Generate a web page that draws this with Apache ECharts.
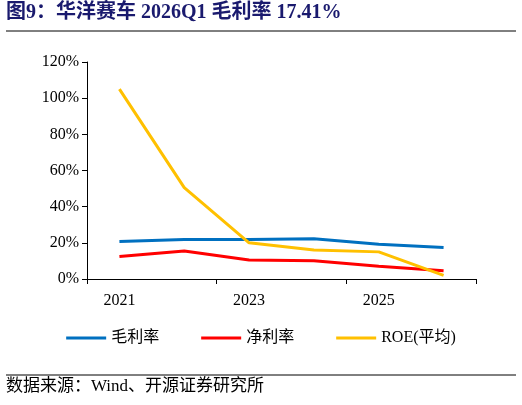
<!DOCTYPE html>
<html><head><meta charset="utf-8">
<script src="https://cdn.jsdelivr.net/npm/echarts@6/dist/echarts.min.js"></script>
<style>html,body{margin:0;padding:0;background:#fff}#c{width:522px;height:405px}</style>
</head><body><div id="c"></div>
<script>
var categories = ['2021','2022','2023','2024','2025','2026Q1'];
var grossMargin = [20.8, 21.8, 21.8, 22.2, 19.2, 17.41];
var netMargin = [12.5, 15.5, 10.5, 10.1, 7.0, 4.5];
var roeAvg = [105, 50.5, 20, 16, 15, 2];
var yTicks = [0, 20, 40, 60, 80, 100, 120];

var serif = '"Liberation Serif","Noto Sans CJK SC",serif';
var chart = echarts.init(document.getElementById('c'));
function s(name, data, color){
  return {name:name,type:'line',data:data,symbol:'none',lineStyle:{width:3,color:color},itemStyle:{color:color}};
}
chart.setOption({
  animation:false,
  graphic:[
    {type:'text',left:6,top:3,style:{text:'图9：华洋赛车 2026Q1 毛利率 17.41%',font:'bold 20px '+serif,fill:'#1a1a6e'}},
    {type:'line',shape:{x1:6,y1:31,x2:516,y2:31},style:{stroke:'#000',lineWidth:1}},
    {type:'line',shape:{x1:6,y1:375,x2:516,y2:375},style:{stroke:'#000',lineWidth:1}},
    {type:'text',left:6,top:378,style:{text:'数据来源：Wind、开源证券研究所',font:'17px '+serif,fill:'#000'}}
  ],
  grid:{left:87,right:46,top:62,bottom:126},
  legend:{bottom:54,left:'center',itemWidth:40,itemHeight:3,itemGap:42,icon:'rect',
    textStyle:{fontFamily:serif,fontSize:16,color:'#000'},
    data:['毛利率','净利率','ROE(平均)']},
  xAxis:{type:'category',data:categories,boundaryGap:true,
    axisLine:{lineStyle:{color:'#000'}},axisTick:{show:true,length:5,lineStyle:{color:'#000'}},
    axisLabel:{fontFamily:serif,fontSize:16,color:'#000',margin:14}},
  yAxis:{type:'value',min:0,max:120,interval:20,
    axisLine:{show:true,lineStyle:{color:'#000'}},axisTick:{show:true,inside:false,length:5,lineStyle:{color:'#000'}},
    splitLine:{show:false},
    axisLabel:{fontFamily:serif,fontSize:16,color:'#000',margin:8,formatter:function(v){return v+'%';}}},
  series:[s('毛利率',grossMargin,'#0070c0'),s('净利率',netMargin,'#ff0000'),s('ROE(平均)',roeAvg,'#ffc000')]
});
</script></body></html>
